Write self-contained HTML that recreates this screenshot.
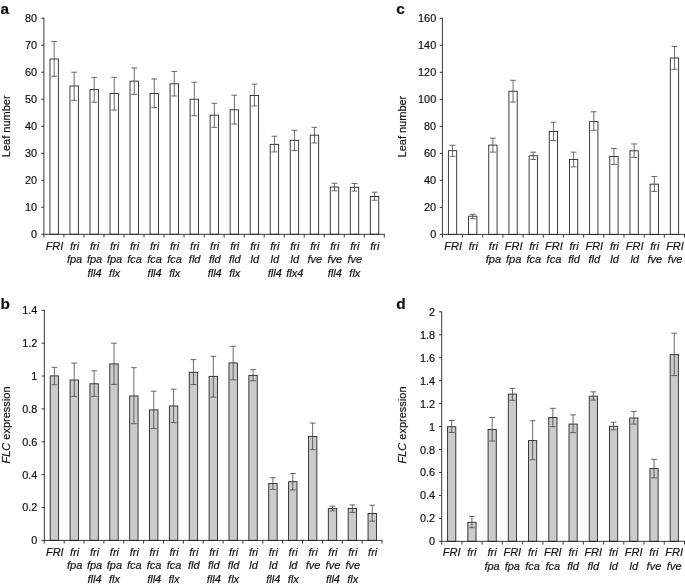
<!DOCTYPE html>
<html><head><meta charset="utf-8"><title>Figure</title>
<style>
html,body{margin:0;padding:0;background:#fff;}
body{width:685px;height:586px;overflow:hidden;}
svg{display:block;filter:blur(0.35px);}
svg text{font-family:"Liberation Sans",sans-serif;fill:#111111;stroke:#111111;stroke-width:0.18px;}
.t{font-size:10.9px;text-anchor:end;}
.l{font-size:11px;font-style:italic;text-anchor:middle;}
.y{font-size:11px;text-anchor:middle;}
.p{font-size:15.4px;font-weight:bold;}
.ax{stroke:#222222;stroke-width:0.9;fill:none;}
.b{stroke:#262626;stroke-width:0.9;}
.e{stroke:#454545;stroke-width:0.8;fill:none;}
</style></head>
<body>
<svg width="685" height="586" viewBox="0 0 685 586">
<rect x="0" y="0" width="685" height="586" fill="#ffffff"/>
<!-- panel a -->
<g>
<text class="p" x="0.6" y="14">a</text>
<text class="y" transform="translate(9.6 126.3) rotate(-90)">Leaf number</text>
<rect class="b" x="49.95" y="58.99" width="8.4" height="175.31" fill="#ffffff"/>
<rect class="b" x="69.97" y="86" width="8.4" height="148.3" fill="#ffffff"/>
<rect class="b" x="90" y="89.51" width="8.4" height="144.79" fill="#ffffff"/>
<rect class="b" x="110.02" y="93.56" width="8.4" height="140.74" fill="#ffffff"/>
<rect class="b" x="130.04" y="81.14" width="8.4" height="153.16" fill="#ffffff"/>
<rect class="b" x="150.07" y="93.56" width="8.4" height="140.74" fill="#ffffff"/>
<rect class="b" x="170.09" y="83.84" width="8.4" height="150.46" fill="#ffffff"/>
<rect class="b" x="190.11" y="99.24" width="8.4" height="135.06" fill="#ffffff"/>
<rect class="b" x="210.14" y="115.17" width="8.4" height="119.13" fill="#ffffff"/>
<rect class="b" x="230.16" y="109.77" width="8.4" height="124.53" fill="#ffffff"/>
<rect class="b" x="250.19" y="95.46" width="8.4" height="138.84" fill="#ffffff"/>
<rect class="b" x="270.21" y="144.35" width="8.4" height="89.95" fill="#ffffff"/>
<rect class="b" x="290.23" y="140.3" width="8.4" height="94" fill="#ffffff"/>
<rect class="b" x="310.26" y="135.16" width="8.4" height="99.14" fill="#ffffff"/>
<rect class="b" x="330.28" y="187.03" width="8.4" height="47.27" fill="#ffffff"/>
<rect class="b" x="350.3" y="187.3" width="8.4" height="47" fill="#ffffff"/>
<rect class="b" x="370.33" y="196.48" width="8.4" height="37.82" fill="#ffffff"/>
<path class="e" d="M54.15 41.43V76.28M51.25 41.43H57.05M51.25 76.28H57.05M74.17 72.22V100.32M71.27 72.22H77.07M71.27 100.32H77.07M94.2 77.36V102.21M91.3 77.36H97.1M91.3 102.21H97.1M114.22 77.36V110.04M111.32 77.36H117.12M111.32 110.04H117.12M134.24 67.9V94.38M131.34 67.9H137.14M131.34 94.38H137.14M154.27 78.98V107.61M151.37 78.98H157.17M151.37 107.61H157.17M174.29 71.41V96M171.39 71.41H177.19M171.39 96H177.19M194.31 82.22V115.72M191.41 82.22H197.21M191.41 115.72H197.21M214.34 103.29V127.33M211.44 103.29H217.24M211.44 127.33H217.24M234.36 95.19V124.09M231.46 95.19H237.26M231.46 124.09H237.26M254.39 84.11V105.99M251.49 84.11H257.29M251.49 105.99H257.29M274.41 136.24V151.91M271.51 136.24H277.31M271.51 151.91H277.31M294.43 130.3V150.56M291.53 130.3H297.33M291.53 150.56H297.33M314.46 127.33V143M311.56 127.33H317.36M311.56 143H317.36M334.48 183.25V190.81M331.58 183.25H337.38M331.58 190.81H337.38M354.5 183.52V191.08M351.6 183.52H357.4M351.6 191.08H357.4M374.53 192.16V200.26M371.63 192.16H377.43M371.63 200.26H377.43"/>
<path class="ax" d="M43.9 17.7V237.5M41.2 234.3H384.8M41.2 207.29H43.9M41.2 180.28H43.9M41.2 153.26H43.9M41.2 126.25H43.9M41.2 99.24H43.9M41.2 72.22H43.9M41.2 45.21H43.9M41.2 18.2H43.9M63.92 234.3V237.5M83.95 234.3V237.5M103.97 234.3V237.5M123.99 234.3V237.5M144.02 234.3V237.5M164.04 234.3V237.5M184.06 234.3V237.5M204.09 234.3V237.5M224.11 234.3V237.5M244.14 234.3V237.5M264.16 234.3V237.5M284.18 234.3V237.5M304.21 234.3V237.5M324.23 234.3V237.5M344.25 234.3V237.5M364.28 234.3V237.5M384.3 234.3V237.5"/>
<text class="t" x="37" y="238.25">0</text>
<text class="t" x="37" y="211.24">10</text>
<text class="t" x="37" y="184.22">20</text>
<text class="t" x="37" y="157.21">30</text>
<text class="t" x="37" y="130.2">40</text>
<text class="t" x="37" y="103.19">50</text>
<text class="t" x="37" y="76.17">60</text>
<text class="t" x="37" y="49.16">70</text>
<text class="t" x="37" y="22.15">80</text>
<text class="l" x="54.51" y="249.7">FRI</text>
<text class="l" x="74.54" y="249.7">fri</text>
<text class="l" x="74.54" y="263.15">fpa</text>
<text class="l" x="94.56" y="249.7">fri</text>
<text class="l" x="94.56" y="263.15">fpa</text>
<text class="l" x="94.56" y="276.6">fll4</text>
<text class="l" x="114.58" y="249.7">fri</text>
<text class="l" x="114.58" y="263.15">fpa</text>
<text class="l" x="114.58" y="276.6">flx</text>
<text class="l" x="134.61" y="249.7">fri</text>
<text class="l" x="134.61" y="263.15">fca</text>
<text class="l" x="154.63" y="249.7">fri</text>
<text class="l" x="154.63" y="263.15">fca</text>
<text class="l" x="154.63" y="276.6">fll4</text>
<text class="l" x="174.65" y="249.7">fri</text>
<text class="l" x="174.65" y="263.15">fca</text>
<text class="l" x="174.65" y="276.6">flx</text>
<text class="l" x="194.68" y="249.7">fri</text>
<text class="l" x="194.68" y="263.15">fld</text>
<text class="l" x="214.7" y="249.7">fri</text>
<text class="l" x="214.7" y="263.15">fld</text>
<text class="l" x="214.7" y="276.6">fll4</text>
<text class="l" x="234.72" y="249.7">fri</text>
<text class="l" x="234.72" y="263.15">fld</text>
<text class="l" x="234.72" y="276.6">flx</text>
<text class="l" x="254.75" y="249.7">fri</text>
<text class="l" x="254.75" y="263.15">ld</text>
<text class="l" x="274.77" y="249.7">fri</text>
<text class="l" x="274.77" y="263.15">ld</text>
<text class="l" x="274.77" y="276.6">fll4</text>
<text class="l" x="294.79" y="249.7">fri</text>
<text class="l" x="294.79" y="263.15">ld</text>
<text class="l" x="294.79" y="276.6">flx4</text>
<text class="l" x="314.82" y="249.7">fri</text>
<text class="l" x="314.82" y="263.15">fve</text>
<text class="l" x="334.84" y="249.7">fri</text>
<text class="l" x="334.84" y="263.15">fve</text>
<text class="l" x="334.84" y="276.6">fll4</text>
<text class="l" x="354.86" y="249.7">fri</text>
<text class="l" x="354.86" y="263.15">fve</text>
<text class="l" x="354.86" y="276.6">flx</text>
<text class="l" x="374.89" y="249.7">fri</text>
</g>
<!-- panel b -->
<g>
<text class="p" x="0.6" y="309">b</text>
<text class="y" transform="translate(9.6 425) rotate(-90)"><tspan font-style="italic">FLC</tspan> expression</text>
<rect class="b" x="50.2" y="375.88" width="8.4" height="164.52" fill="#cbcbcb"/>
<rect class="b" x="70.06" y="379.99" width="8.4" height="160.41" fill="#cbcbcb"/>
<rect class="b" x="89.93" y="383.77" width="8.4" height="156.63" fill="#cbcbcb"/>
<rect class="b" x="109.79" y="363.88" width="8.4" height="176.52" fill="#cbcbcb"/>
<rect class="b" x="129.66" y="395.93" width="8.4" height="144.47" fill="#cbcbcb"/>
<rect class="b" x="149.52" y="409.9" width="8.4" height="130.5" fill="#cbcbcb"/>
<rect class="b" x="169.39" y="405.96" width="8.4" height="134.44" fill="#cbcbcb"/>
<rect class="b" x="189.25" y="372.26" width="8.4" height="168.14" fill="#cbcbcb"/>
<rect class="b" x="209.12" y="376.37" width="8.4" height="164.03" fill="#cbcbcb"/>
<rect class="b" x="228.98" y="362.89" width="8.4" height="177.51" fill="#cbcbcb"/>
<rect class="b" x="248.85" y="375.39" width="8.4" height="165.01" fill="#cbcbcb"/>
<rect class="b" x="268.71" y="483.53" width="8.4" height="56.87" fill="#cbcbcb"/>
<rect class="b" x="288.58" y="481.72" width="8.4" height="58.68" fill="#cbcbcb"/>
<rect class="b" x="308.44" y="436.53" width="8.4" height="103.87" fill="#cbcbcb"/>
<rect class="b" x="328.31" y="508.51" width="8.4" height="31.89" fill="#cbcbcb"/>
<rect class="b" x="348.17" y="508.51" width="8.4" height="31.89" fill="#cbcbcb"/>
<rect class="b" x="368.04" y="513.45" width="8.4" height="26.95" fill="#cbcbcb"/>
<path class="e" d="M54.4 367.33V384.75M51.5 367.33H57.3M51.5 384.75H57.3M74.26 363.06V396.42M71.36 363.06H77.16M71.36 396.42H77.16M94.13 370.78V396.42M91.23 370.78H97.03M91.23 396.42H97.03M113.99 343.17V384.43M111.09 343.17H116.89M111.09 384.43H116.89M133.86 367.66V423.71M130.96 367.66H136.76M130.96 423.71H136.76M153.72 391.16V428.64M150.82 391.16H156.62M150.82 428.64H156.62M173.59 389.19V422.56M170.69 389.19H176.49M170.69 422.56H176.49M193.45 359.61V384.59M190.55 359.61H196.35M190.55 384.59H196.35M213.32 356.32V397.08M210.42 356.32H216.22M210.42 397.08H216.22M233.18 346.29V379.82M230.28 346.29H236.08M230.28 379.82H236.08M253.05 369.63V380.81M250.15 369.63H255.95M250.15 380.81H255.95M272.91 477.78V489.45M270.01 477.78H275.81M270.01 489.45H275.81M292.78 473.51V489.94M289.88 473.51H295.68M289.88 489.94H295.68M312.64 423.05V449.67M309.74 423.05H315.54M309.74 449.67H315.54M332.51 506.21V510.82M329.61 506.21H335.41M329.61 510.82H335.41M352.37 504.9V512.46M349.47 504.9H355.27M349.47 512.46H355.27M372.24 505.23V521.17M369.34 505.23H375.14M369.34 521.17H375.14"/>
<path class="ax" d="M44.3 309.8V543.6M41.6 540.4H382.5M41.6 507.53H44.3M41.6 474.66H44.3M41.6 441.79H44.3M41.6 408.91H44.3M41.6 376.04H44.3M41.6 343.17H44.3M41.6 310.3H44.3M64.16 540.4V543.6M84.03 540.4V543.6M103.89 540.4V543.6M123.76 540.4V543.6M143.62 540.4V543.6M163.49 540.4V543.6M183.35 540.4V543.6M203.22 540.4V543.6M223.08 540.4V543.6M242.95 540.4V543.6M262.81 540.4V543.6M282.68 540.4V543.6M302.54 540.4V543.6M322.41 540.4V543.6M342.27 540.4V543.6M362.14 540.4V543.6M382 540.4V543.6"/>
<text class="t" x="37.4" y="544.35">0</text>
<text class="t" x="37.4" y="511.48">0.2</text>
<text class="t" x="37.4" y="478.61">0.4</text>
<text class="t" x="37.4" y="445.74">0.6</text>
<text class="t" x="37.4" y="412.86">0.8</text>
<text class="t" x="37.4" y="379.99">1</text>
<text class="t" x="37.4" y="347.12">1.2</text>
<text class="t" x="37.4" y="314.25">1.4</text>
<text class="l" x="54.83" y="555.8">FRI</text>
<text class="l" x="74.7" y="555.8">fri</text>
<text class="l" x="74.7" y="569.25">fpa</text>
<text class="l" x="94.56" y="555.8">fri</text>
<text class="l" x="94.56" y="569.25">fpa</text>
<text class="l" x="94.56" y="582.7">fll4</text>
<text class="l" x="114.43" y="555.8">fri</text>
<text class="l" x="114.43" y="569.25">fpa</text>
<text class="l" x="114.43" y="582.7">flx</text>
<text class="l" x="134.29" y="555.8">fri</text>
<text class="l" x="134.29" y="569.25">fca</text>
<text class="l" x="154.16" y="555.8">fri</text>
<text class="l" x="154.16" y="569.25">fca</text>
<text class="l" x="154.16" y="582.7">fll4</text>
<text class="l" x="174.02" y="555.8">fri</text>
<text class="l" x="174.02" y="569.25">fca</text>
<text class="l" x="174.02" y="582.7">flx</text>
<text class="l" x="193.89" y="555.8">fri</text>
<text class="l" x="193.89" y="569.25">fld</text>
<text class="l" x="213.75" y="555.8">fri</text>
<text class="l" x="213.75" y="569.25">fld</text>
<text class="l" x="213.75" y="582.7">fll4</text>
<text class="l" x="233.61" y="555.8">fri</text>
<text class="l" x="233.61" y="569.25">fld</text>
<text class="l" x="233.61" y="582.7">flx</text>
<text class="l" x="253.48" y="555.8">fri</text>
<text class="l" x="253.48" y="569.25">ld</text>
<text class="l" x="273.34" y="555.8">fri</text>
<text class="l" x="273.34" y="569.25">ld</text>
<text class="l" x="273.34" y="582.7">fll4</text>
<text class="l" x="293.21" y="555.8">fri</text>
<text class="l" x="293.21" y="569.25">ld</text>
<text class="l" x="293.21" y="582.7">flx</text>
<text class="l" x="313.07" y="555.8">fri</text>
<text class="l" x="313.07" y="569.25">fve</text>
<text class="l" x="332.94" y="555.8">fri</text>
<text class="l" x="332.94" y="569.25">fve</text>
<text class="l" x="332.94" y="582.7">fll4</text>
<text class="l" x="352.8" y="555.8">fri</text>
<text class="l" x="352.8" y="569.25">fve</text>
<text class="l" x="352.8" y="582.7">flx</text>
<text class="l" x="372.67" y="555.8">fri</text>
</g>
<!-- panel c -->
<g>
<text class="p" x="396.3" y="14">c</text>
<text class="y" transform="translate(405.7 126.6) rotate(-90)">Leaf number</text>
<rect class="b" x="448.4" y="150.66" width="8.3" height="83.74" fill="#ffffff"/>
<rect class="b" x="468.57" y="216.17" width="8.3" height="18.23" fill="#ffffff"/>
<rect class="b" x="488.75" y="145.12" width="8.3" height="89.28" fill="#ffffff"/>
<rect class="b" x="508.92" y="91.23" width="8.3" height="143.17" fill="#ffffff"/>
<rect class="b" x="529.1" y="155.79" width="8.3" height="78.61" fill="#ffffff"/>
<rect class="b" x="549.27" y="131.48" width="8.3" height="102.92" fill="#ffffff"/>
<rect class="b" x="569.45" y="159.44" width="8.3" height="74.96" fill="#ffffff"/>
<rect class="b" x="589.62" y="121.62" width="8.3" height="112.78" fill="#ffffff"/>
<rect class="b" x="609.8" y="156.47" width="8.3" height="77.93" fill="#ffffff"/>
<rect class="b" x="629.98" y="150.8" width="8.3" height="83.6" fill="#ffffff"/>
<rect class="b" x="650.15" y="184.16" width="8.3" height="50.24" fill="#ffffff"/>
<rect class="b" x="670.33" y="58.01" width="8.3" height="176.39" fill="#ffffff"/>
<path class="e" d="M452.55 145.26V156.33M449.65 145.26H455.45M449.65 156.33H455.45M472.72 214.28V218.73M469.82 214.28H475.62M469.82 218.73H475.62M492.9 138.24V152.15M490 138.24H495.8M490 152.15H495.8M513.07 80.29V102.04M510.17 80.29H515.97M510.17 102.04H515.97M533.25 152.15V159.44M530.35 152.15H536.15M530.35 159.44H536.15M553.42 122.3V140.53M550.52 122.3H556.32M550.52 140.53H556.32M573.6 152.15V166.87M570.7 152.15H576.5M570.7 166.87H576.5M593.77 111.76V130.27M590.88 111.76H596.67M590.88 130.27H596.67M613.95 148.5V164.44M611.05 148.5H616.85M611.05 164.44H616.85M634.12 143.91V157.41M631.23 143.91H637.02M631.23 157.41H637.02M654.3 176.46V191.45M651.4 176.46H657.2M651.4 191.45H657.2M674.48 46.53V69.35M671.58 46.53H677.38M671.58 69.35H677.38"/>
<path class="ax" d="M442.4 17.8V237.6M439.7 234.4H685M439.7 207.39H442.4M439.7 180.38H442.4M439.7 153.36H442.4M439.7 126.35H442.4M439.7 99.34H442.4M439.7 72.33H442.4M439.7 45.31H442.4M439.7 18.3H442.4M462.57 234.4V237.6M482.75 234.4V237.6M502.92 234.4V237.6M523.1 234.4V237.6M543.27 234.4V237.6M563.45 234.4V237.6M583.62 234.4V237.6M603.8 234.4V237.6M623.98 234.4V237.6M644.15 234.4V237.6M664.33 234.4V237.6M684.5 234.4V237.6"/>
<text class="t" x="436.2" y="238.35">0</text>
<text class="t" x="436.2" y="211.34">20</text>
<text class="t" x="436.2" y="184.32">40</text>
<text class="t" x="436.2" y="157.31">60</text>
<text class="t" x="436.2" y="130.3">80</text>
<text class="t" x="436.2" y="103.29">100</text>
<text class="t" x="436.2" y="76.28">120</text>
<text class="t" x="436.2" y="49.26">140</text>
<text class="t" x="436.2" y="22.25">160</text>
<text class="l" x="453.09" y="249.8">FRI</text>
<text class="l" x="473.26" y="249.8">fri</text>
<text class="l" x="493.44" y="249.8">fri</text>
<text class="l" x="493.44" y="263.25">fpa</text>
<text class="l" x="513.61" y="249.8">FRI</text>
<text class="l" x="513.61" y="263.25">fpa</text>
<text class="l" x="533.79" y="249.8">fri</text>
<text class="l" x="533.79" y="263.25">fca</text>
<text class="l" x="553.96" y="249.8">FRI</text>
<text class="l" x="553.96" y="263.25">fca</text>
<text class="l" x="574.14" y="249.8">fri</text>
<text class="l" x="574.14" y="263.25">fld</text>
<text class="l" x="594.31" y="249.8">FRI</text>
<text class="l" x="594.31" y="263.25">fld</text>
<text class="l" x="614.49" y="249.8">fri</text>
<text class="l" x="614.49" y="263.25">ld</text>
<text class="l" x="634.66" y="249.8">FRI</text>
<text class="l" x="634.66" y="263.25">ld</text>
<text class="l" x="654.84" y="249.8">fri</text>
<text class="l" x="654.84" y="263.25">fve</text>
<text class="l" x="675.01" y="249.8">FRI</text>
<text class="l" x="675.01" y="263.25">fve</text>
</g>
<!-- panel d -->
<g>
<text class="p" x="396.3" y="309">d</text>
<text class="y" transform="translate(406 425) rotate(-90)"><tspan font-style="italic">FLC</tspan> expression</text>
<rect class="b" x="447.6" y="426.71" width="8.2" height="114.64" fill="#cbcbcb"/>
<rect class="b" x="467.83" y="522.3" width="8.2" height="19.05" fill="#cbcbcb"/>
<rect class="b" x="488.07" y="429.47" width="8.2" height="111.88" fill="#cbcbcb"/>
<rect class="b" x="508.3" y="394.13" width="8.2" height="147.22" fill="#cbcbcb"/>
<rect class="b" x="528.53" y="440.6" width="8.2" height="100.75" fill="#cbcbcb"/>
<rect class="b" x="548.77" y="417.53" width="8.2" height="123.82" fill="#cbcbcb"/>
<rect class="b" x="569" y="424.08" width="8.2" height="117.27" fill="#cbcbcb"/>
<rect class="b" x="589.23" y="396.19" width="8.2" height="145.16" fill="#cbcbcb"/>
<rect class="b" x="609.47" y="426.26" width="8.2" height="115.09" fill="#cbcbcb"/>
<rect class="b" x="629.7" y="417.99" width="8.2" height="123.36" fill="#cbcbcb"/>
<rect class="b" x="649.93" y="468.6" width="8.2" height="72.75" fill="#cbcbcb"/>
<rect class="b" x="670.17" y="354.65" width="8.2" height="186.7" fill="#cbcbcb"/>
<path class="e" d="M451.7 420.52V432.45M448.8 420.52H454.6M448.8 432.45H454.6M471.93 516.45V527.69M469.03 516.45H474.83M469.03 527.69H474.83M492.17 417.53V441.06M489.27 417.53H495.07M489.27 441.06H495.07M512.4 388.39V400.32M509.5 388.39H515.3M509.5 400.32H515.3M532.63 420.75V459.76M529.73 420.75H535.53M529.73 459.76H535.53M552.87 408.35V426.71M549.97 408.35H555.77M549.97 426.71H555.77M573.1 414.9V432.68M570.2 414.9H576M570.2 432.68H576M593.33 391.83V400.09M590.43 391.83H596.23M590.43 400.09H596.23M613.57 422.24V429.81M610.67 422.24H616.47M610.67 429.81H616.47M633.8 411.45V424.08M630.9 411.45H636.7M630.9 424.08H636.7M654.03 459.3V477.89M651.13 459.3H656.93M651.13 477.89H656.93M674.27 333.19V375.54M671.37 333.19H677.17M671.37 375.54H677.17"/>
<path class="ax" d="M441.7 311.35V544.55M439 541.35H685M439 518.4H441.7M439 495.45H441.7M439 472.5H441.7M439 449.55H441.7M439 426.6H441.7M439 403.65H441.7M439 380.7H441.7M439 357.75H441.7M439 334.8H441.7M439 311.85H441.7M461.93 541.35V544.55M482.17 541.35V544.55M502.4 541.35V544.55M522.63 541.35V544.55M542.87 541.35V544.55M563.1 541.35V544.55M583.33 541.35V544.55M603.57 541.35V544.55M623.8 541.35V544.55M644.03 541.35V544.55M664.27 541.35V544.55M684.5 541.35V544.55"/>
<text class="t" x="435.1" y="545.3">0</text>
<text class="t" x="435.1" y="522.35">0.2</text>
<text class="t" x="435.1" y="499.4">0.4</text>
<text class="t" x="435.1" y="476.45">0.6</text>
<text class="t" x="435.1" y="453.5">0.8</text>
<text class="t" x="435.1" y="430.55">1</text>
<text class="t" x="435.1" y="407.6">1.2</text>
<text class="t" x="435.1" y="384.65">1.4</text>
<text class="t" x="435.1" y="361.7">1.6</text>
<text class="t" x="435.1" y="338.75">1.8</text>
<text class="t" x="435.1" y="315.8">2</text>
<text class="l" x="451.62" y="556.15">FRI</text>
<text class="l" x="471.85" y="556.15">fri</text>
<text class="l" x="492.08" y="556.15">fri</text>
<text class="l" x="492.08" y="569.6">fpa</text>
<text class="l" x="512.32" y="556.15">FRI</text>
<text class="l" x="512.32" y="569.6">fpa</text>
<text class="l" x="532.55" y="556.15">fri</text>
<text class="l" x="532.55" y="569.6">fca</text>
<text class="l" x="552.78" y="556.15">FRI</text>
<text class="l" x="552.78" y="569.6">fca</text>
<text class="l" x="573.02" y="556.15">fri</text>
<text class="l" x="573.02" y="569.6">fld</text>
<text class="l" x="593.25" y="556.15">FRI</text>
<text class="l" x="593.25" y="569.6">fld</text>
<text class="l" x="613.48" y="556.15">fri</text>
<text class="l" x="613.48" y="569.6">ld</text>
<text class="l" x="633.72" y="556.15">FRI</text>
<text class="l" x="633.72" y="569.6">ld</text>
<text class="l" x="653.95" y="556.15">fri</text>
<text class="l" x="653.95" y="569.6">fve</text>
<text class="l" x="674.18" y="556.15">FRI</text>
<text class="l" x="674.18" y="569.6">fve</text>
</g>
</svg>
</body></html>
